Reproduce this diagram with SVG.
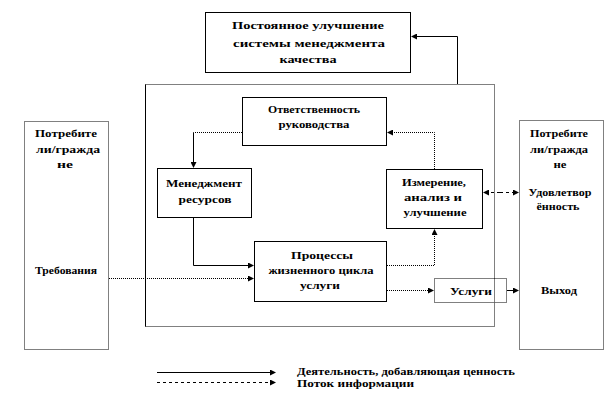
<svg xmlns="http://www.w3.org/2000/svg" width="615" height="400" viewBox="0 0 615 400">
<style>
.box{fill:#fff;stroke:#000;stroke-width:1}
.dbox{fill:#fff;stroke:#000;stroke-width:1;stroke-dasharray:1,1}
text{font-family:"Liberation Serif","DejaVu Serif",serif;font-weight:bold;font-size:11px;fill:#000}
.t{text-anchor:middle}
.lg{font-size:10px}
.s{fill:none;stroke:#000;stroke-width:1}
.d{fill:none;stroke:#000;stroke-width:1;stroke-dasharray:1,1}
.dl{fill:none;stroke:#000;stroke-width:1;stroke-dasharray:3,3}
</style>
<defs>
<marker id="a" markerWidth="6" markerHeight="6" refX="5" refY="3" orient="auto" markerUnits="userSpaceOnUse">
<path d="M0,0 L6,3 L0,6 Z" fill="#000"/>
</marker>
</defs>
<rect width="615" height="400" fill="#fff"/>

<g id="frame">
<rect class="dbox" x="145.5" y="84.5" width="349" height="242"/>
<line class="s" x1="145.5" y1="84.5" x2="145.5" y2="326.5"/>
</g>

<g id="top">
<rect class="box" x="205.5" y="12.5" width="205" height="60"/>
<text class="t" x="308" y="29" textLength="152" lengthAdjust="spacingAndGlyphs">Постоянное  улучшение</text>
<text class="t" x="309" y="47" textLength="152" lengthAdjust="spacingAndGlyphs">системы  менеджмента</text>
<text class="t" x="308" y="63" textLength="57" lengthAdjust="spacingAndGlyphs">качества</text>
</g>

<g id="resp">
<rect class="box" x="242.5" y="97.5" width="144" height="48"/>
<text class="t" x="314" y="113" textLength="92" lengthAdjust="spacingAndGlyphs">Ответственность</text>
<text class="t" x="314" y="128" textLength="71" lengthAdjust="spacingAndGlyphs">руководства</text>
</g>

<g id="res">
<rect class="box" x="157.5" y="168.5" width="94" height="49"/>
<text class="t" x="204" y="187" textLength="76" lengthAdjust="spacingAndGlyphs">Менеджмент</text>
<text class="t" x="205" y="203" textLength="53" lengthAdjust="spacingAndGlyphs">ресурсов</text>
</g>

<g id="meas">
<rect class="box" x="386.5" y="169.5" width="96" height="59"/>
<text class="t" x="434" y="186" textLength="64" lengthAdjust="spacingAndGlyphs">Измерение,</text>
<text class="t" x="433" y="201" textLength="58" lengthAdjust="spacingAndGlyphs">анализ  и</text>
<text class="t" x="435" y="216" textLength="63" lengthAdjust="spacingAndGlyphs">улучшение</text>
</g>

<g id="proc">
<rect class="box" x="254.5" y="241.5" width="132" height="60"/>
<text class="t" x="322" y="259" textLength="62" lengthAdjust="spacingAndGlyphs">Процессы</text>
<text class="t" x="321" y="274" textLength="105" lengthAdjust="spacingAndGlyphs">жизненного цикла</text>
<text class="t" x="320" y="289" textLength="40" lengthAdjust="spacingAndGlyphs">услуги</text>
</g>

<g id="serv">
<rect class="dbox" x="434.5" y="278.5" width="72" height="24"/>
<line class="d" x1="494.5" y1="278.5" x2="494.5" y2="302.5"/>
<text class="t" x="471" y="295" textLength="42" lengthAdjust="spacingAndGlyphs">Услуги</text>
</g>

<g id="custL">
<rect class="dbox" x="24.5" y="121.5" width="84" height="228"/>
<text class="t" x="66" y="137" textLength="62" lengthAdjust="spacingAndGlyphs">Потребите</text>
<text class="t" x="68" y="153" textLength="64" lengthAdjust="spacingAndGlyphs">ли/гражда</text>
<text class="t" x="65" y="168" textLength="16" lengthAdjust="spacingAndGlyphs">не</text>
<text class="t" x="66" y="274" textLength="62" lengthAdjust="spacingAndGlyphs">Требования</text>
</g>

<g id="custR">
<rect class="dbox" x="519.5" y="120.5" width="84" height="229"/>
<text class="t" x="559" y="137" textLength="58" lengthAdjust="spacingAndGlyphs">Потребите</text>
<text class="t" x="559" y="153" textLength="58" lengthAdjust="spacingAndGlyphs">ли/гражда</text>
<text class="t" x="560" y="168" textLength="13" lengthAdjust="spacingAndGlyphs">не</text>
<text class="t" x="560" y="196" textLength="63" lengthAdjust="spacingAndGlyphs">Удовлетвор</text>
<text class="t" x="558" y="210" textLength="43" lengthAdjust="spacingAndGlyphs">ённость</text>
<text class="t" x="559" y="294" textLength="36" lengthAdjust="spacingAndGlyphs">Выход</text>
</g>

<g id="connectors">
<path class="s" d="M457.5,84 V36.5 H412" marker-end="url(#a)"/>
<path class="d" d="M242,132.5 H193.5"/>
<path class="s" d="M193.5,132.5 V167" marker-end="url(#a)"/>
<path class="s" d="M193.5,218 V265.5 H253" marker-end="url(#a)"/>
<path class="d" d="M109,278.5 H253" marker-end="url(#a)"/>
<path class="d" d="M387,265.5 H434.5 V230" marker-end="url(#a)"/>
<path class="d" d="M434.5,169 V132.5 H388" marker-end="url(#a)"/>
<path class="d" d="M387,290.5 H433" marker-end="url(#a)"/>
<path class="s" d="M507,290.5 H518" marker-end="url(#a)"/>
<path class="dl" d="M500,192.5 H518" marker-end="url(#a)"/>
<path class="dl" d="M500,192.5 H484" marker-end="url(#a)"/>
</g>

<g id="legend">
<path class="s" d="M157,372.5 H275" marker-end="url(#a)"/>
<path class="dl" d="M157,382.5 H275" marker-end="url(#a)"/>
<text class="lg" x="297" y="375" textLength="218" lengthAdjust="spacingAndGlyphs">Деятельность,  добавляющая ценность</text>
<text class="lg" x="297" y="386.5" textLength="117" lengthAdjust="spacingAndGlyphs">Поток информации</text>
</g>
</svg>
